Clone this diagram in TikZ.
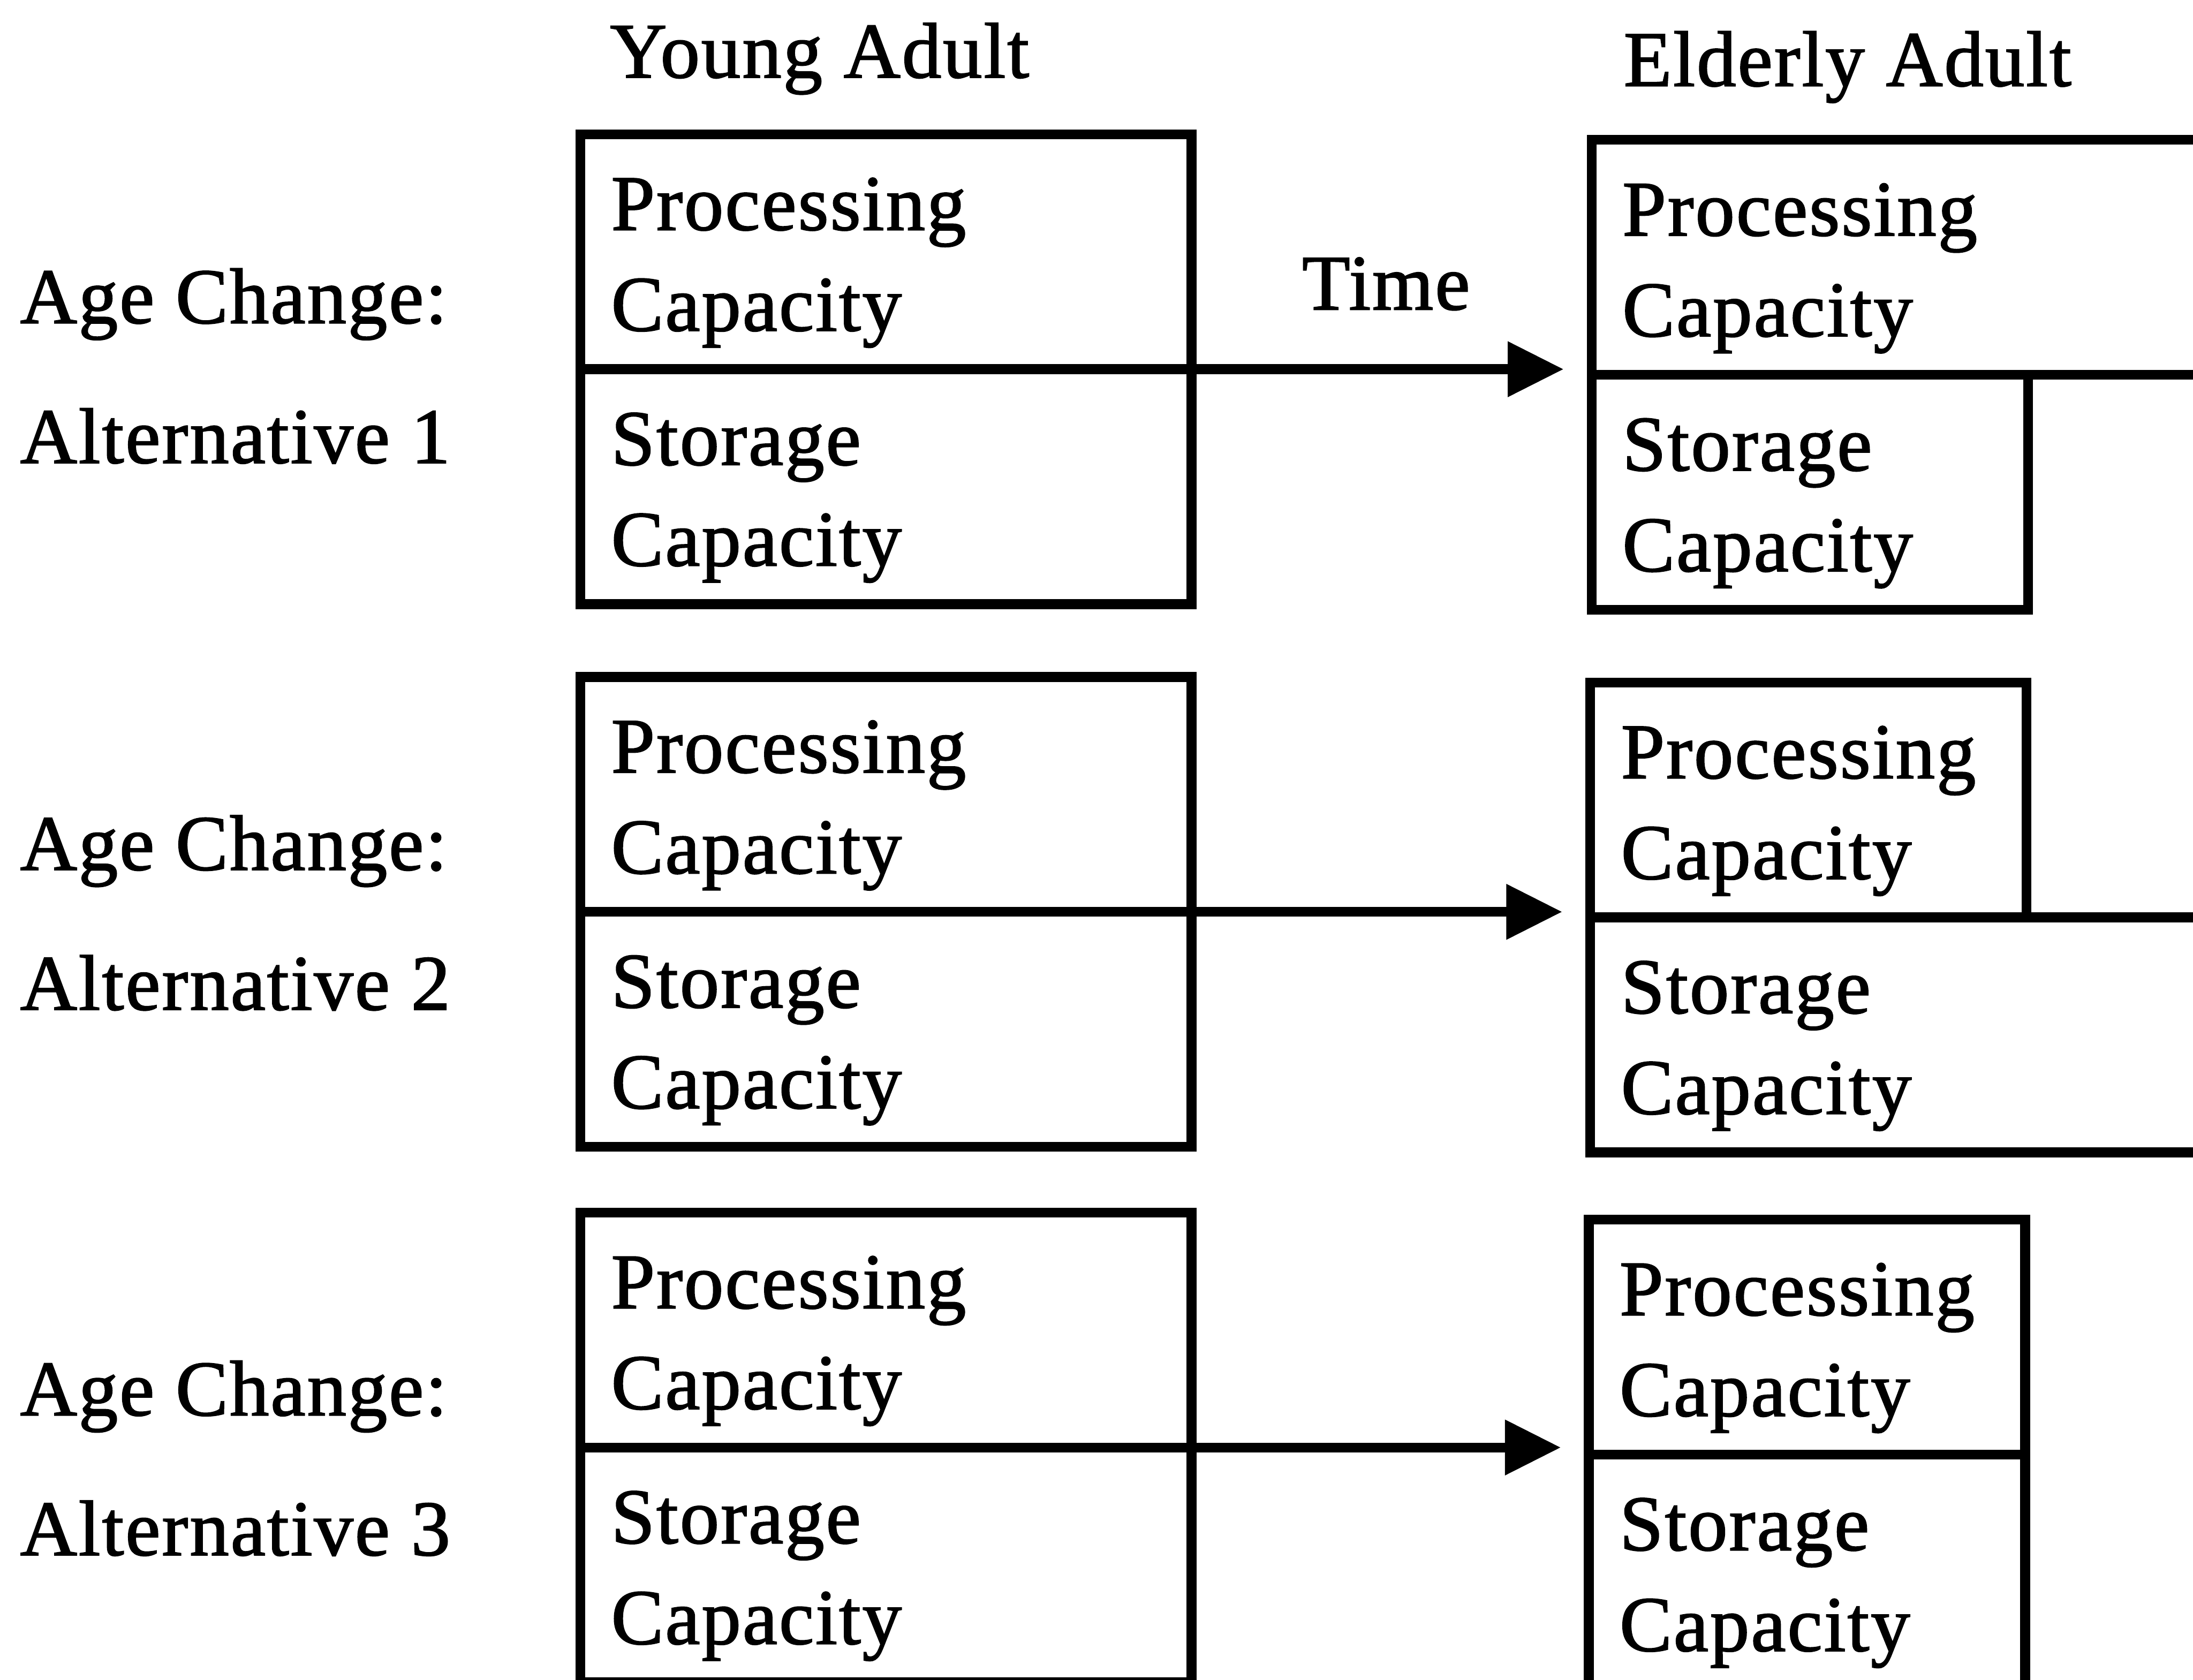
\documentclass[tikz,border=0pt]{standalone}
\usepackage{fontspec}
\setmainfont{Liberation Serif}[LetterSpace=2, FakeBold=1.5]
\usepackage{tikz}
\usetikzlibrary{arrows.meta, positioning}

\begin{document}
\begin{tikzpicture}[>={Triangle[length=4mm, width=3.8mm]}, line width=2pt,
    cell/.style={draw, rectangle, outer sep=0pt, inner xsep=2.2mm, text height=5.3mm,
        minimum height=1.68cm, align=left, font=\fontsize{16}{20.5}\selectfont},
    wide/.style={cell, text width=3.93cm},
    narrow/.style={cell, text width=2.68cm},
    rowtext/.style={inner sep=0pt, font=\fontsize{16}{20.5}\selectfont}]

    % =================================================================
    % 1. KHUNG TRANG
    % =================================================================
    \useasboundingbox (0,0) rectangle (15.68,-12.01);
    \clip (0,0) rectangle (15.68,-12.01);

    % Tiêu đề các cột
    \node[rowtext] (young) at (5.86,-0.42) {Young Adult};
    \node[rowtext] (elderly) at (13.21,-0.48) {Elderly Adult};
    \node[rowtext] (time) at (9.91,-2.03) {Time};

    % =================================================================
    % 2. CỘT TRÁI: NGƯỜI TRẺ
    % =================================================================
    \foreach \r/\t/\a in {1/-0.96/-2.31, 2/-4.84/-6.22, 3/-8.67/-10.12} {
        \node[wide, anchor=north west] (yp\r) at (4.15,\t) {Processing\\Capacity};
        \node[wide, below=0pt of yp\r] (ys\r) {Storage\\Capacity};
        \node[rowtext, anchor=base west] (ac\r) at (0.11,\a) {Age Change:};
        \node[rowtext, anchor=base west] (alt\r) at ([yshift=-1cm]ac\r.base west) {Alternative \r};
    }

    % =================================================================
    % 3. CỘT PHẢI: NGƯỜI GIÀ
    % =================================================================
    % Hàng 1: dung lượng lưu trữ giảm
    \node[cell, text width=4.36cm, anchor=north west] (ep1) at (11.38,-1.00) {Processing\\Capacity};
    \node[narrow, anchor=north west] (es1) at (ep1.south west) {Storage\\Capacity};

    % Hàng 2: dung lượng xử lý giảm
    \node[narrow, anchor=north west] (ep2) at (11.37,-4.88) {Processing\\Capacity};
    \node[cell, text width=4.36cm, anchor=north west] (es2) at (ep2.south west) {Storage\\Capacity};

    % Hàng 3: cả hai giảm
    \node[narrow, anchor=north west] (ep3) at (11.36,-8.72) {Processing\\Capacity};
    \node[narrow, anchor=north west] (es3) at (ep3.south west) {Storage\\Capacity};

    % Mũi tên thời gian
    \foreach \r in {1,2,3} {
        \draw[->, shorten >=2mm] (yp\r.south east) -- (yp\r.south east -| ep\r.west);
    }

\end{tikzpicture}
\end{document}
